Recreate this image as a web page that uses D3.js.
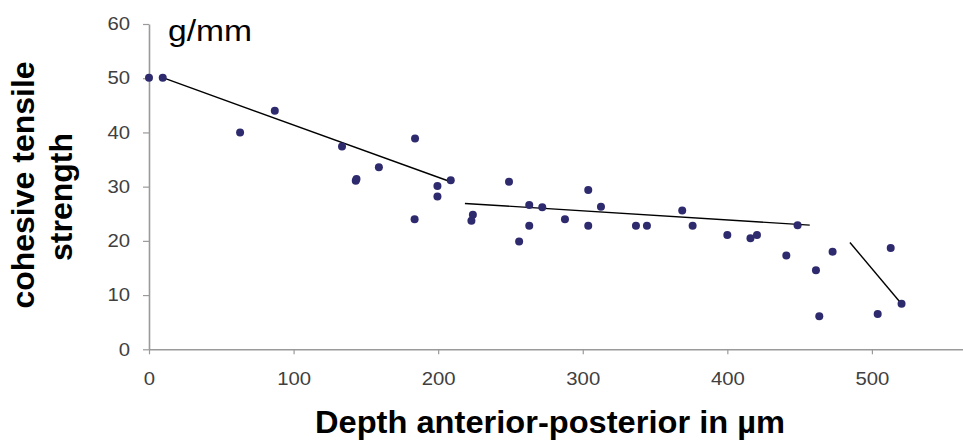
<!DOCTYPE html>
<html>
<head>
<meta charset="utf-8">
<script src="https://cdn.jsdelivr.net/npm/d3@7"></script>
<style>
  body { margin: 0; background: #fff; }
  svg { display: block; font-family: Arial, "Liberation Sans", sans-serif; }
</style>
</head>
<body>
<div class="chart"></div>
<script>

// measured points: depth (um) vs cohesive tensile strength (g/mm)
var depth = [0, 9.5, 63, 87, 133.5, 143, 143.5, 159, 183.7, 184, 199.5, 199.5, 208.7,
             223, 224, 249, 256, 263, 263, 272, 287.7, 303.8, 303.8, 312.6, 336.8, 344.4,
             368.8, 376, 400, 416, 420.5, 440.8, 448.6, 461.3, 463.6, 472.8, 504, 513, 520.5];
var strength = [50.1, 50.1, 40, 44, 37.4, 31.1, 31.4, 33.6, 24, 38.9, 30.1, 28.2, 31.2,
                23.7, 24.8, 30.9, 19.9, 26.6, 22.8, 26.2, 24, 29.4, 22.8, 26.3, 22.8, 22.8,
                25.6, 22.8, 21.1, 20.5, 21.1, 17.3, 22.9, 14.6, 6.1, 18, 6.5, 18.7, 8.4];

// three fitted segments [x1, y1, x2, y2]
var segments = [
  [9.5, 50.1, 208.6, 30.9],
  [218.5, 26.9, 457, 22.9],
  [484.8, 19.7, 522, 7.9]
];

var xTicks = [0, 100, 200, 300, 400, 500];
var yTicks = [0, 10, 20, 30, 40, 50, 60];

var width = 963, height = 442;
var axisColor = "#9a9a9a";

var svg = d3.select(".chart").append("svg")
    .attr("width", width)
    .attr("height", height);

svg.append("rect").attr("width", width).attr("height", height).attr("fill", "#fff");

var x = d3.scaleLinear().domain([0, 563]).range([149, 963]);
var y = d3.scaleLinear().domain([0, 60]).range([349.3, 24]);

// y axis
var yAxis = svg.append("g")
    .attr("transform", "translate(" + x(0) + ",0)")
    .call(d3.axisLeft(y).tickValues(yTicks).tickSize(6).tickPadding(13).tickSizeOuter(0));

// x axis
var xAxis = svg.append("g")
    .attr("transform", "translate(0," + y(0) + ")")
    .call(d3.axisBottom(x).tickValues(xTicks).tickSize(5).tickPadding(18).tickSizeOuter(0));

[yAxis, xAxis].forEach(function(a) {
  a.select(".domain").attr("stroke", axisColor).attr("stroke-width", 1.6);
  a.selectAll(".tick line").attr("stroke", axisColor).attr("stroke-width", 1.2);
  a.selectAll(".tick text")
    .attr("fill", "#404040")
    .style("font-size", "18px")
    .style("font-family", "Arial, 'Liberation Sans', sans-serif");
});
// the source digits are a little wider than Arial
yAxis.selectAll(".tick text").attr("textLength", function(d) { return String(d).length * 11.3; })
  .attr("lengthAdjust", "spacingAndGlyphs");
xAxis.selectAll(".tick text").attr("textLength", function(d) { return String(d).length * 11.3; })
  .attr("lengthAdjust", "spacingAndGlyphs");

// fitted lines
svg.selectAll(".fit")
  .data(segments)
  .enter().append("line")
    .attr("class", "fit")
    .attr("x1", function(d) { return x(d[0]); })
    .attr("y1", function(d) { return y(d[1]); })
    .attr("x2", function(d) { return x(d[2]); })
    .attr("y2", function(d) { return y(d[3]); })
    .attr("stroke", "#000")
    .attr("stroke-width", 1.4);

// points
svg.selectAll(".pt")
  .data(depth)
  .enter().append("circle")
    .attr("class", "pt")
    .attr("cx", function(d) { return x(d); })
    .attr("cy", function(d, i) { return y(strength[i]); })
    .attr("r", 4)
    .attr("fill", "#2e2a6e");

// unit
svg.append("text")
  .attr("x", 168)
  .attr("y", 41)
  .style("font-size", "29px")
  .attr("textLength", 84)
  .attr("lengthAdjust", "spacingAndGlyphs")
  .attr("fill", "#000")
  .text("g/mm");

// y label, two lines
svg.append("text")
  .attr("transform", "translate(34,185) rotate(-90)")
  .attr("text-anchor", "middle")
  .style("font-size", "32px")
  .style("font-weight", "bold")
  .text("cohesive tensile");

svg.append("text")
  .attr("transform", "translate(72,197) rotate(-90)")
  .attr("text-anchor", "middle")
  .style("font-size", "32px")
  .style("font-weight", "bold")
  .text("strength");

// x label
svg.append("text")
  .attr("x", 550)
  .attr("y", 433)
  .attr("text-anchor", "middle")
  .style("font-size", "31px")
  .style("font-weight", "bold")
  .attr("textLength", 470)
  .attr("lengthAdjust", "spacingAndGlyphs")
  .text("Depth anterior-posterior in µm");

</script>
</body>
</html>
